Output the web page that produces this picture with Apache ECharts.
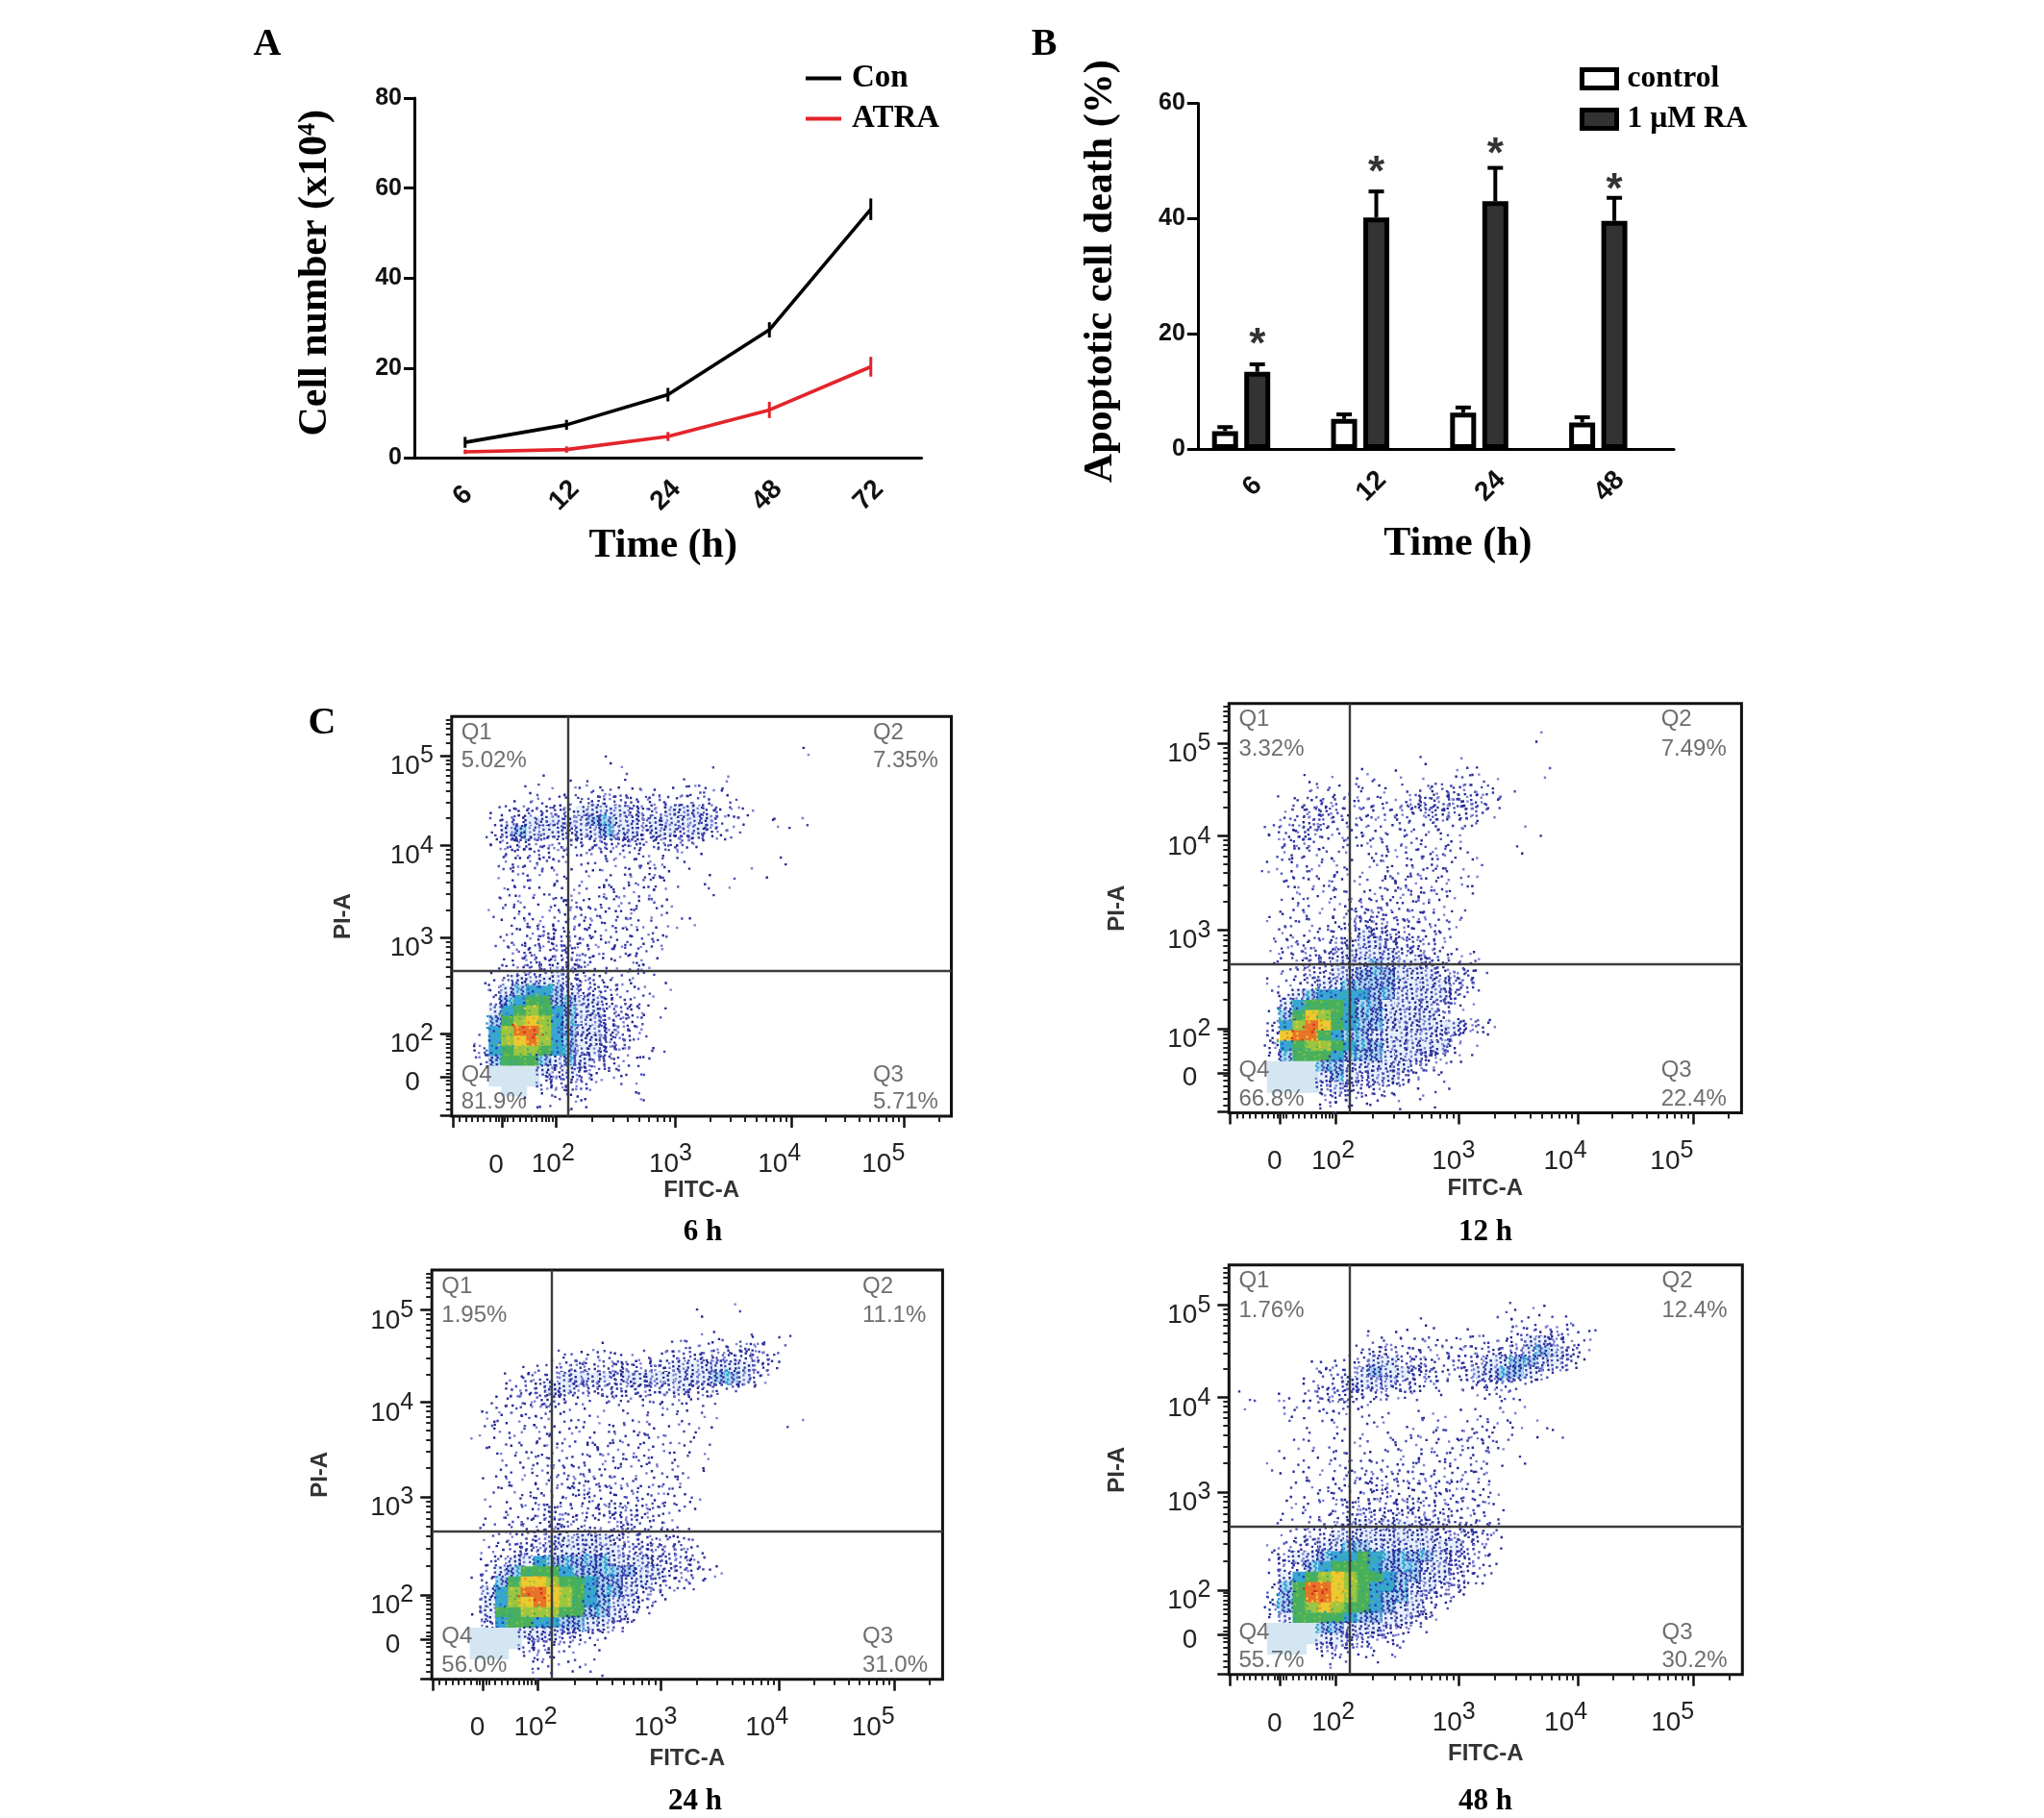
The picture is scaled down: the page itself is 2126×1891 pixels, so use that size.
<!DOCTYPE html>
<html><head><meta charset="utf-8">
<style>html,body{margin:0;padding:0;background:#fff}#c{width:2126px;height:1891px}</style>
<script src="https://cdn.jsdelivr.net/npm/echarts@6/dist/echarts.min.js"></script>
</head><body><div id="c"></div>
<script>
// ---------- Panel A ----------
const timesA = ['6','12','24','48','72'];
const conMean = [3.5,7.4,14.1,28.5,55.3];
const conErr  = [1.2,1.1,1.5,1.7,2.4];
const atraMean = [1.4,1.9,4.8,10.7,20.3];
const atraErr  = [0.5,0.7,1.0,1.8,2.2];
// ---------- Panel B ----------
const timesB = ['6','12','24','48'];
const ctrlMean = [3.1,5.2,6.3,4.6];
const ctrlTop  = [3.8,6.0,7.2,5.5];
const raMean = [13.4,40.2,43.0,39.6];
const raTop  = [14.7,44.7,48.8,43.6];
const starAt = [19.4,49.3,52.4,46.3];
// ---------- Panel C : density of events, one string per row from the top,
// one character per column from the left (0 none, 1-5 rising event density, 6 cyan, 7 green, 8 lime, 9 yellow, a red, p debris patch)
const density6h = [
"","","",
"00000000000000000000000000001",
"0000000000001",
"0000000000000100000001",
"00000001010100100010010",
"0000010101112111111221",
"00001121222333223222211",
"000113233344443334443212",
"00023344444554434444422001101",
"00024544434454434434321",
"00023332232333323331",
"000122232122212211110",
"000112221111111111100000001",
"000112111110111221000000100",
"00001101111111122100101",
"0000211111112112100010",
"000111112311212111",
"00011211121212111100",
"000012212122121110110",
"0000112312212121200",
"00011223332212121",
"00001232232212221",
"0000123323311121",
"0001123343221122",
"00123444433221100100",
"0002456654332211",
"000256775544322100",
"00046787654433211",
"0005789865443321",
"00068aa865443321",
"001689a865443311",
"00367887654432111",
"002577754543311",
"000pppp43432111",
"000pppp33231011",
"0000pp0212100011",
"00000011011",
"0000001011"
];
const density12h = [
"","","",
"0000000000000000000000001",
"",
"000000000000000100100000",
"00000000001001000020000010",
"000001010011000101111",
"0000011221111102332221",
"000012221222123333331",
"000012332222232333321",
"00012233222112122121",
"000223321212111111100001",
"00012321112111212100000",
"00011211111212112210001",
"00111111110211121101000",
"0001211121112121211",
"00001112111112212110",
"0000112111212222211",
"00001111122221221",
"0001121112232221211",
"000111112333222211",
"00011122234333222",
"00012222334433322",
"00012233344443332211",
"0000123344454443322",
"00011233445554443331",
"00011234455554444331",
"0001245666655444431",
"00014677765544443 2",
"000257987655444431",
"000368a97655444444331",
"00039aa7655444443 2",
"0003678876554444431",
"00025777655544432 1",
"000pppp55444443 21",
"000pppp45434432 1",
"000pppp34323211 01",
"0000000322110101",
"000000021110010 01"
];
const density24h = [
"","","",
"00000000000000000000000100",
"000000000000000000001",
"",
"000000000000000000001010111 1",
"0000000000000100001122223 21",
"000000000112222122233333332",
"000000011233333333344444432",
"00000112234444344444445542",
"000001233443333333343321",
"00000122332111122211111",
"0000122222110101112110",
"0000211111110101010111000000 1",
"00011111211111112111100",
"000110111121112112101",
"0000011122111211211101",
"0000011212111122211101",
"0000011122122111121 11",
"00001211112222121121",
"00000111212322222 121",
"00001012222122221211 2",
"0000011223222333322",
"0000112223322223222",
"00001122232232322222",
"000012233444443332221",
"00001233344444433333 2",
"000023446555554443332 1",
"0001245777655555443322 1",
"00013579987765 544322 1",
"000146 8aa987655 4321",
"000146 89a987654421",
"00014778887755 421",
"0001367766554421",
"000pppp4443311",
"000pppp332211",
"000ppp0221101",
"00000001210 11",
"0000000110100 1"
];
const density48h = [
"","","",
"0000000000000000000000100",
"000000000000000000000101 1",
"0000000000000001000001200110",
"000000000001011100100 1123321 1",
"00000000000111211221223443 2",
"00000000012332222222333454 32",
"00000011123443322323445544 3",
"0000001223454433223445542",
"000000222444433 2012232 1",
"010100233323211010012 11",
"010021122210000000001110",
"0000111111101010110111",
"000000101011001100121 1001",
"0000010011101111212211 0101",
"0000011011101111122121",
"00010011111111111211101",
"00010111111122212112 1",
"00001111122121222212",
"00000111222322222222",
"000001122222222222122",
"0000111123322332 2222",
"00001012223333233222 1",
"0000112233434433333 22",
"00001233444444443333 2",
"00012334455444444432 1",
"00023445667655554332",
"000123567776555443321",
"0002467898776554432 1",
"00025 7aa98766544331",
"00035 7aa9876554321",
"0003578987765442 1",
"0002477776554432",
"000pppp55444321",
"000pppp4433212",
"000ppp0322 1111",
"0000000110 01",
"0000000100"
];
const quad6h  = ['5.02%','7.35%','5.71%','81.9%'];
const quad12h = ['3.32%','7.49%','22.4%','66.8%'];
const quad24h = ['1.95%','11.1%','31.0%','56.0%'];
const quad48h = ['1.76%','12.4%','30.2%','55.7%'];
const gateX = [23.3,23.5,23.4,23.5];
const gateY = [36.3,36.3,36.2,36.2];
const quadNames = ['Q1','Q2','Q3','Q4'];
const captions = ['6 h','12 h','24 h','48 h'];

// tick positions of the biexponential flow axes, percent of the axis length
const xMajorTicks = [0.2,10,20.8,44.8,68,90.5];
const yMajorTicks = [0.2,9.8,20.5,44.6,67.8,90.2];
const xLabelPos = [8.9,20.3,43.8,65.6,86.4];
const yLabelPos = [8.4,18,42,65,87.6];
const expLabels = ['0','2','3','4','5'];

function decadeTicks(from,to,extra){ const t=[]; for(let m=2;m<=9;m++) t.push(from+(to-from)*Math.log10(m)); return t.concat(extra||[]); }
const xMinor = [1.5,2.8,4,5.2,6.4,7.6,8.8,9.4,10.6,11.2,12.4,13.6,14.8,16,17,18,18.8,19.5,20.2]
  .concat(decadeTicks(20.8,44.8),decadeTicks(44.8,68),decadeTicks(68,90.5,[97.5]));
const yMinor = [1.8,3.4,5,6.6,8,9,10.6,11.6,13.2,14.8,16,17.2,18.2,19.2,19.9]
  .concat(decadeTicks(20.5,44.6),decadeTicks(44.6,67.8),decadeTicks(67.8,90.2),[93.5,95.5,97,98.2,99.2]);

const serif='"Liberation Serif"', sans='"Liberation Sans"';
const panels=[
 {d:density6h, q:quad6h, l:469.8,r:989.5,t:745.3,b:1160.9,cx:726,cy:1277,fg:64,pg:100},
 {d:density12h,q:quad12h,l:1278.3,r:1811.4,t:731.8,b:1157.5,cx:1540,cy:1277,fg:67,pg:104},
 {d:density24h,q:quad24h,l:449.2,r:980.4,t:1321,b:1746.7,cx:718,cy:1869,fg:71,pg:104},
 {d:density48h,q:quad48h,l:1278.3,r:1812.3,t:1315.8,b:1741.8,cx:1540,cy:1869,fg:71,pg:104}
];

const CELL=2.5;
const dotCount={1:2,2:4,3:9,4:15,5:24,6:10,7:7,8:7,9:7,10:9};
const cellFill={4:'#e6f0fa',5:'#a9d6ee',6:'#37a6d4',7:'#48b05c',8:'#9cc640',9:'#ecc92f',10:'#e8722a',25:'#d4e6f2'};
const grain={5:['#2a2f9f','#4148b4','#27a0d2','#2a2f9f'],6:['#2a3fa8','#3fb08a','#2a6fc0'],7:['#7dbd48','#2fa69a'],8:['#e6c832','#50b25a'],9:['#ee8f2c','#a5c93f'],10:['#f3bf30','#d8301f'],25:[]};
const dotCols=['#23288f','#2f35a0','#474db4','#7a7ed2'];
function frac(v){return v-Math.floor(v);}
function cellsFrom(rows){
  const out=[];
  rows.forEach((row,r)=>{ row.replace(/ /g,'').split('').forEach((ch,c)=>{
    const lv=parseInt(ch,36);
    if(lv>0) out.push([c*CELL,100-r*CELL,lv]);
  });});
  return out;
}
function renderCell(params,api){
  const x=api.value(0),y=api.value(1),lv=api.value(2);
  const p0=api.coord([x,y]),p1=api.coord([x+CELL,y-CELL]);
  const w=p1[0]-p0[0],h=p1[1]-p0[1];
  const kids=[];
  if(cellFill[lv]) kids.push({type:'rect',shape:{x:p0[0]-0.5,y:p0[1]-0.5,width:w+1,height:h+1},style:{fill:cellFill[lv]}});
  const n=dotCount[lv]||0, c=Math.round(x/CELL), r=Math.round((100-y)/CELL);
  const cols=lv>=5?(grain[lv]||[]):dotCols;
  for(let k=0;k<n&&cols.length;k++){
    const u=frac(0.7549*k+c*0.381+r*0.713+c*r*0.3819+r*r*0.177),v=frac(0.5698*k+c*0.437+r*0.271+c*r*0.618+c*c*0.233);
    kids.push({type:'rect',shape:{x:p0[0]-0.3*w+u*1.6*w,y:p0[1]-0.3*h+v*1.6*h,width:2.4,height:2.4},
      style:{fill:cols[(k+c+r)%cols.length]}});
  }
  return {type:'group',children:kids};
}
function renderErrLine(color,width){
  return function(params,api){
    const c=api.value(0),a=api.coord([c,api.value(1)]),b=api.coord([c,api.value(2)]);
    return {type:'line',shape:{x1:a[0],y1:a[1],x2:b[0],y2:b[1]},style:{stroke:color,lineWidth:width}};
  };
}
function renderCap(shift){
  return function(params,api){
    const c=api.value(0),band=api.size([1,0])[0],off=band*shift;
    const a=api.coord([c,api.value(1)]),b=api.coord([c,api.value(2)]);
    return {type:'group',children:[
      {type:'line',shape:{x1:a[0]+off,y1:a[1],x2:b[0]+off,y2:b[1]},style:{stroke:'#000',lineWidth:4}},
      {type:'line',shape:{x1:a[0]+off-8,y1:b[1],x2:a[0]+off+8,y2:b[1]},style:{stroke:'#000',lineWidth:4}}
    ]};
  };
}

const catLabel={rotate:45,align:'center',verticalAlign:'middle',fontFamily:sans,fontWeight:'bold',fontSize:28,color:'#111'};
const catAxisCommon={type:'category',axisLine:{lineStyle:{color:'#000',width:3.2}},axisTick:{alignWithLabel:true,length:12,lineStyle:{color:'#000',width:3}},
  nameLocation:'center'};
const valAxisCommon={type:'value',min:0,splitLine:{show:false},axisLine:{show:true,lineStyle:{color:'#000',width:3}},axisTick:{show:true,length:11,lineStyle:{color:'#000',width:3}},
  axisLabel:{margin:13,fontFamily:sans,fontWeight:'bold',fontSize:25,color:'#111'},
  nameLocation:'center'};
const nameFont={fontFamily:serif,fontWeight:'bold',fontSize:42,color:'#000'};

const grids=[
 {left:431,top:102,width:527.5,height:374.5},
 {left:1245.8,top:107.5,width:495.2,height:359.5}
];
const xAxes=[
 Object.assign({},catAxisCommon,{gridIndex:0,data:timesA,axisLabel:Object.assign({},catLabel,{margin:37,padding:[0,6,0,0]}),name:'Time (h)',nameGap:71,nameTextStyle:Object.assign({},nameFont,{padding:[0,10,0,0]})}),
 Object.assign({},catAxisCommon,{gridIndex:1,data:timesB,axisLabel:Object.assign({},catLabel,{margin:34,padding:[0,14,0,0]}),name:'Time (h)',nameGap:78,nameTextStyle:Object.assign({},nameFont,{padding:[0,0,0,46]})})
];
const yAxes=[
 Object.assign({},valAxisCommon,{gridIndex:0,max:80,interval:20,name:'{a|Cell number (x10}{s|4}{a|)}',nameGap:82,
   nameTextStyle:{padding:[0,0,0,11],rich:{a:{fontFamily:serif,fontWeight:'bold',fontSize:42,color:'#000'},s:{fontFamily:serif,fontWeight:'bold',fontSize:26,color:'#000',padding:[0,0,16,0]}}}}),
 Object.assign({},valAxisCommon,{gridIndex:1,max:60,interval:20,name:'Apoptotic cell death (%)',nameGap:80,nameTextStyle:Object.assign({},nameFont,{padding:[0,0,0,10]})})
];
const series=[
 {type:'line',name:'Con',xAxisIndex:0,yAxisIndex:0,data:conMean,symbol:'none',lineStyle:{color:'#000',width:3.6},itemStyle:{color:'#000'},z:3},
 {type:'line',name:'ATRA',xAxisIndex:0,yAxisIndex:0,data:atraMean,symbol:'none',lineStyle:{color:'#e3242b',width:3.6},itemStyle:{color:'#e3242b'},z:3},
 {type:'custom',name:'Con error',xAxisIndex:0,yAxisIndex:0,renderItem:renderErrLine('#000',3),encode:{x:0,y:[1,2]},data:conMean.map((m,i)=>[i,m-conErr[i],m+conErr[i]]),z:4},
 {type:'custom',name:'ATRA error',xAxisIndex:0,yAxisIndex:0,renderItem:renderErrLine('#e3242b',3),encode:{x:0,y:[1,2]},data:atraMean.map((m,i)=>[i,m-atraErr[i],m+atraErr[i]]),z:4},
 {type:'bar',name:'control',xAxisIndex:1,yAxisIndex:1,data:ctrlMean,barWidth:27,barGap:'24%',itemStyle:{color:'#fff',borderColor:'#000',borderWidth:5}},
 {type:'bar',name:'1 µM RA',xAxisIndex:1,yAxisIndex:1,data:raMean,barWidth:27,barGap:'24%',itemStyle:{color:'#333',borderColor:'#000',borderWidth:5}},
 {type:'bar',name:'slot',xAxisIndex:1,yAxisIndex:1,data:[],barWidth:27,barGap:'24%'},
 {type:'custom',name:'control error',xAxisIndex:1,yAxisIndex:1,renderItem:renderCap(-0.27),encode:{x:0,y:[1,2]},data:ctrlMean.map((m,i)=>[i,m,ctrlTop[i]]),z:1},
 {type:'custom',name:'RA error',xAxisIndex:1,yAxisIndex:1,renderItem:renderCap(0),encode:{x:0,y:[1,2]},data:raMean.map((m,i)=>[i,m,raTop[i]]),z:1},
 {type:'scatter',name:'significance',xAxisIndex:1,yAxisIndex:1,symbolSize:0,data:starAt.map((v,i)=>[i,v]),
   label:{show:true,position:'inside',formatter:'*',offset:[0,9],fontFamily:sans,fontWeight:'bold',fontSize:44,color:'#000'}}
];
const titles=[
 {text:'A',left:273,top:42},{text:'B',left:1081,top:42},{text:'C',left:330,top:748}
].map(t=>Object.assign(t,{textAlign:'center',textVerticalAlign:'middle',textStyle:{fontFamily:serif,fontWeight:'bold',fontSize:40,color:'#000'}}));

const richBase={b:{fontFamily:sans,fontSize:28,color:'#222'},s:{fontFamily:sans,fontSize:25,color:'#222',padding:[0,0,22,0]}};
const richX=Object.assign({},richBase,{z:{fontFamily:sans,fontSize:28,color:'#222',padding:[10,0,0,0]}});
const richY=Object.assign({},richBase,{z:{fontFamily:sans,fontSize:28,color:'#222',padding:[0,14,0,0]}});
function fmt(positions){return v=>{const i=positions.findIndex(p=>Math.abs(p-v)<1e-6); if(i<0) return ''; return i===0?'{z|0}':'{b|10}{s|'+expLabels[i]+'}';};}

panels.forEach((p,i)=>{
  const gi=grids.length;
  grids.push({left:p.l,top:p.t,width:p.r-p.l,height:p.b-p.t,show:true,borderColor:'#111',borderWidth:3,backgroundColor:'#fff'});
  const xi=xAxes.length, yi=yAxes.length;
  xAxes.push({type:'value',gridIndex:gi,position:'bottom',min:0,max:100,splitLine:{show:false},axisLine:{show:false,onZero:false},
    axisTick:{show:true,length:12,customValues:xMajorTicks,lineStyle:{color:'#111',width:2.5}},
    axisLabel:{show:true,margin:27,customValues:xLabelPos,formatter:fmt(xLabelPos),rich:richX},
    name:'FITC-A',nameLocation:'center',nameGap:p.fg,nameTextStyle:{fontFamily:sans,fontWeight:'bold',fontSize:24,color:'#333'}});
  xAxes.push({type:'value',gridIndex:gi,position:'bottom',min:0,max:100,splitLine:{show:false},axisLine:{show:false,onZero:false},
    axisTick:{show:true,length:6,customValues:xMinor,lineStyle:{color:'#222',width:2}},axisLabel:{show:false}});
  yAxes.push({type:'value',gridIndex:gi,position:'left',min:0,max:100,splitLine:{show:false},axisLine:{show:false,onZero:false},
    axisTick:{show:true,length:12,customValues:yMajorTicks,lineStyle:{color:'#111',width:2.5}},
    axisLabel:{show:true,margin:19,customValues:yLabelPos,formatter:fmt(yLabelPos),rich:richY},
    name:'PI-A',nameLocation:'center',nameGap:p.pg,nameTextStyle:{fontFamily:sans,fontWeight:'bold',fontSize:24,color:'#333'}});
  yAxes.push({type:'value',gridIndex:gi,position:'left',min:0,max:100,splitLine:{show:false},axisLine:{show:false,onZero:false},
    axisTick:{show:true,length:6,customValues:yMinor,lineStyle:{color:'#222',width:2}},axisLabel:{show:false}});
  series.push({type:'custom',name:'Events '+captions[i],xAxisIndex:xi,yAxisIndex:yi,renderItem:renderCell,silent:true,clip:true,
    encode:{x:0,y:1},data:cellsFrom(p.d),
    markLine:{silent:true,symbol:'none',label:{show:false},animation:false,lineStyle:{color:'#3c3c3c',width:2.4,type:'solid'},
      data:[{xAxis:gateX[i]},{yAxis:gateY[i]}]}});
  const lx=[1.9,84.3,84.3,1.9], ly=[96,96,10.3,10.3], ly2=[88.9,88.9,3.4,3.4];
  const lab=[];
  quadNames.forEach((q,k)=>{lab.push({value:[lx[k],ly[k]],text:q});lab.push({value:[lx[k],ly2[k]],text:p.q[k]});});
  series.push({type:'scatter',name:'Quadrants '+captions[i],xAxisIndex:xi,yAxisIndex:yi,symbolSize:0,silent:true,data:lab,z:5,
    label:{show:true,position:'right',distance:0,formatter:o=>o.data.text,fontFamily:sans,fontSize:24,color:'#4a4a4a'}});
  titles.push({text:captions[i],left:p.cx,top:p.cy,textAlign:'center',textVerticalAlign:'middle',textStyle:{fontFamily:serif,fontWeight:'bold',fontSize:31,color:'#000'}});
});

const chart=echarts.init(document.getElementById('c'),null,{renderer:'canvas',width:2126,height:1891});
chart.setOption({animation:false,backgroundColor:'#fff',title:titles,grid:grids,xAxis:xAxes,yAxis:yAxes,series:series,
 legend:[
  {orient:'vertical',left:838,top:65,itemWidth:37,itemHeight:4,itemGap:9,padding:0,selectedMode:false,
   textStyle:{fontFamily:serif,fontWeight:'bold',fontSize:33,color:'#000',padding:[0,0,0,6]},
   data:[{name:'Con',icon:'rect'},{name:'ATRA',icon:'rect'}]},
  {orient:'vertical',left:1643,top:66,itemWidth:36,itemHeight:19,itemGap:10,padding:0,selectedMode:false,
   textStyle:{fontFamily:serif,fontWeight:'bold',fontSize:31.5,color:'#000',padding:[0,0,0,6]},
   data:[{name:'control',icon:'rect',itemStyle:{color:'#fff',borderColor:'#000',borderWidth:5}},{name:'1 µM RA',icon:'rect',itemStyle:{color:'#333',borderColor:'#000',borderWidth:5}}]}
 ]});
</script></body></html>
